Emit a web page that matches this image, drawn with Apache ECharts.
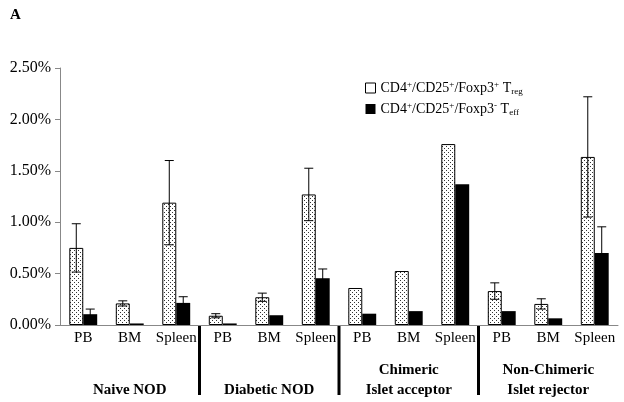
<!DOCTYPE html>
<html>
<head>
<meta charset="UTF-8">
<title>Treg / Teff</title>
<script src="https://cdn.jsdelivr.net/npm/echarts@6/dist/echarts.min.js"></script>
<style>
  html, body { margin: 0; padding: 0; background: #fff; }
  #main { width: 624px; height: 402px; }
</style>
</head>
<body>
<div id="main"></div>
<script>
// values, in percent
var tissues = ['PB', 'BM', 'Spleen', 'PB', 'BM', 'Spleen', 'PB', 'BM', 'Spleen', 'PB', 'BM', 'Spleen'];
var groups = ['Naive NOD', 'Diabetic NOD', 'Chimeric\nIslet acceptor', 'Non-Chimeric\nIslet rejector'];
var treg = [0.75, 0.21, 1.19, 0.09, 0.27, 1.27, 0.36, 0.525, 1.76, 0.33, 0.205, 1.635];
var tregErr = [0.235, 0.025, 0.41, 0.02, 0.04, 0.255, 0, 0, 0, 0.08, 0.05, 0.585];
var teff = [0.105, 0.015, 0.215, 0.015, 0.095, 0.455, 0.11, 0.135, 1.37, 0.135, 0.065, 0.70];
var teffErr = [0.05, 0, 0.06, 0, 0, 0.09, 0, 0, 0, 0, 0, 0.255];
var yTicks = [0, 0.5, 1.0, 1.5, 2.0, 2.5];

var FONT = 'Liberation Serif';

// dotted fill for the Treg bars
var dots = document.createElement('canvas');
dots.width = 4; dots.height = 4;
var dctx = dots.getContext('2d');
dctx.fillStyle = '#fff';
dctx.fillRect(0, 0, 4, 4);
dctx.fillStyle = '#333';
dctx.fillRect(0, 0, 1, 1);
dctx.fillRect(2, 2, 1, 1);

function errData(vals, errs) {
  var out = [];
  for (var i = 0; i < vals.length; i++) out.push([i, vals[i], errs[i]]);
  return out;
}

function errRender(shift) {
  return function (params, api) {
    var err = api.value(2);
    if (!err) return;
    var i = api.value(0), v = api.value(1);
    var band = api.size([1, 0])[0];
    var dx = band * shift;
    var top = api.coord([i, v + err]);
    var bot = api.coord([i, Math.max(0, v - err)]);
    var x = top[0] + dx, cap = 4.5;
    var st = { stroke: '#000', lineWidth: 1 };
    return {
      type: 'group',
      children: [
        { type: 'line', shape: { x1: x, y1: top[1], x2: x, y2: bot[1] }, style: st },
        { type: 'line', shape: { x1: x - cap, y1: top[1], x2: x + cap, y2: top[1] }, style: st },
        { type: 'line', shape: { x1: x - cap, y1: bot[1], x2: x + cap, y2: bot[1] }, style: st }
      ]
    };
  };
}

var chart = echarts.init(document.getElementById('main'));

var option = {
  backgroundColor: '#fff',
  animation: false,
  textStyle: { fontFamily: FONT },
  title: {
    text: 'A', left: 5, top: 3,
    textStyle: { fontFamily: FONT, fontSize: 15, fontWeight: 'bold', color: '#000' }
  },
  legend: {
    orient: 'vertical', left: 360, top: 75, itemGap: 5,
    itemWidth: 10, itemHeight: 10,
    data: [
      { name: 'Treg', icon: 'rect', itemStyle: { color: '#fff', borderColor: '#000', borderWidth: 1 } },
      { name: 'Teff', icon: 'rect', itemStyle: { color: '#000' } }
    ],
    formatter: function (name) {
      if (name === 'Treg') return '{a|CD4}{sup|+}{a|/CD25}{sup|+}{a|/Foxp3}{sup|+}{a| T}{sub|reg}';
      return '{a|CD4}{sup|+}{a|/CD25}{sup|+}{a|/Foxp3}{sup|-}{a| T}{sub|eff}';
    },
    textStyle: {
      rich: {
        a: { fontFamily: FONT, fontSize: 14, color: '#000', lineHeight: 16 },
        sup: { fontFamily: FONT, fontSize: 9, color: '#000', verticalAlign: 'top', lineHeight: 16, padding: [0, 0, 6, 0] },
        sub: { fontFamily: FONT, fontSize: 9, color: '#000', verticalAlign: 'bottom', lineHeight: 16, padding: [5, 0, 0, 0] }
      }
    }
  },
  grid: { left: 60, right: 6, top: 68, bottom: 77 },
  xAxis: [{
    type: 'category', data: tissues,
    axisLine: { lineStyle: { color: '#888' } },
    axisTick: { length: 4, lineStyle: { color: '#888' } },
    axisLabel: { color: '#000', fontFamily: FONT, fontSize: 15, margin: 6, interval: 0 }
  }, {
    type: 'category', data: groups, position: 'bottom', offset: 67,
    axisLine: { show: false }, axisTick: { show: false },
    axisLabel: {
      color: '#000', fontFamily: FONT, fontSize: 15, fontWeight: 'bold',
      interval: 0, margin: 8, verticalAlign: 'bottom', lineHeight: 20
    }
  }],
  yAxis: {
    type: 'value', min: yTicks[0], max: yTicks[yTicks.length - 1], interval: 0.5,
    splitLine: { show: false },
    axisLine: { show: true, lineStyle: { color: '#888' } },
    axisTick: { show: true, length: 5, lineStyle: { color: '#888' } },
    axisLabel: {
      color: '#000', fontFamily: FONT, fontSize: 16, margin: 9,
      formatter: function (v) { return v.toFixed(2) + '%'; }
    }
  },
  series: [{
    name: 'Treg', type: 'bar', data: treg, barWidth: '30%', barGap: '0%',
    itemStyle: { color: { image: dots, repeat: 'repeat' }, borderColor: '#000', borderWidth: 1 }
  }, {
    name: 'Teff', type: 'bar', data: teff, barWidth: '30%', barGap: '0%',
    itemStyle: { color: '#000' }
  }, {
    name: 'TregErr', type: 'custom', data: errData(treg, tregErr),
    renderItem: errRender(-0.15), z: 5, silent: true
  }, {
    name: 'TeffErr', type: 'custom', data: errData(teff, teffErr),
    renderItem: errRender(0.15), z: 5, silent: true
  }]
};

chart.setOption(option);

// thick separators between the four groups, placed on the category boundaries
var lines = [];
var y0 = chart.convertToPixel({ yAxisIndex: 0 }, 0);
for (var g = 1; g < groups.length; g++) {
  var a = chart.convertToPixel({ xAxisIndex: 0 }, g * 3 - 1);
  var b = chart.convertToPixel({ xAxisIndex: 0 }, g * 3);
  var x = (a + b) / 2;
  lines.push({
    type: 'line', shape: { x1: x, y1: y0, x2: x, y2: y0 + 70 },
    style: { stroke: '#000', lineWidth: 3 }
  });
}
chart.setOption({ graphic: lines });
</script>
</body>
</html>
